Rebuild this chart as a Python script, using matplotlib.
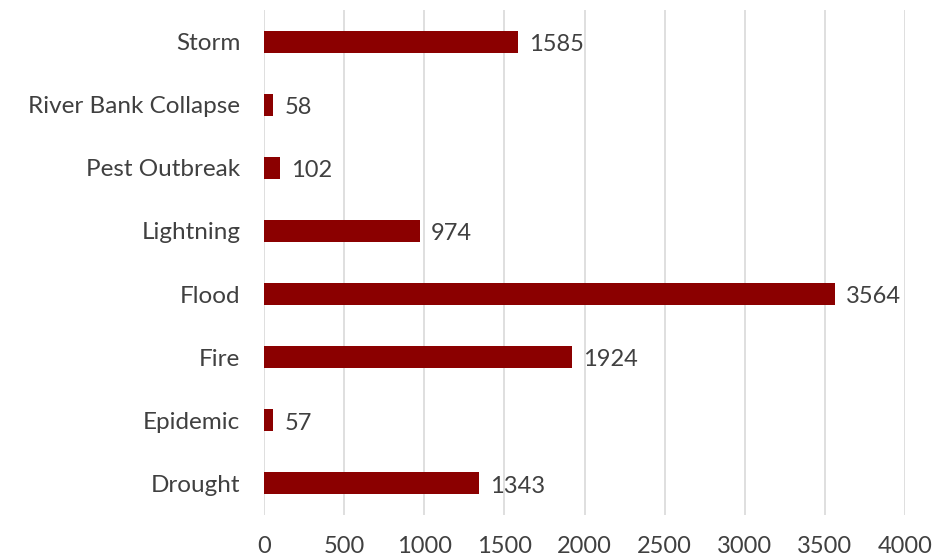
import matplotlib.pyplot as plt
import numpy as np

# categories listed top to bottom as in the chart
categories = ["Storm", "River Bank Collapse", "Pest Outbreak", "Lightning",
              "Flood", "Fire", "Epidemic", "Drought"]
counts = [1585, 58, 102, 974, 3564, 1924, 57, 1343]
x_ticks = [0, 500, 1000, 1500, 2000, 2500, 3000, 3500, 4000]

plt.rcParams['font.family'] = ['Lato', 'DejaVu Sans']
text_color = '#404040'
bar_color = '#8B0000'

fig = plt.figure(figsize=(9.33, 5.59), dpi=100)
ax = fig.add_axes([264 / 933, 1 - 515 / 559, (905 - 264) / 933, 505 / 559])

y = np.arange(len(categories))[::-1]
bars = ax.barh(y, counts, height=0.35, color=bar_color, zorder=3)

for rect, val in zip(bars, counts):
    ax.annotate(str(val), (rect.get_width(), rect.get_y() + rect.get_height() / 2),
                xytext=(8, -2), textcoords='offset points', va='center', ha='left',
                fontsize=17, color=text_color)

ax.set_xlim(0, 4000)
ax.set_ylim(-0.5, len(categories) - 0.5)
ax.set_xticks(x_ticks)
ax.set_xticklabels([str(t) for t in x_ticks], fontsize=17, color=text_color)
ax.set_yticks(y)
ax.set_yticklabels(categories, fontsize=17.5, color=text_color)
ax.tick_params(axis='both', length=0)
ax.tick_params(axis='x', pad=15)
ax.tick_params(axis='y', pad=17)
for lbl in ax.get_yticklabels():
    lbl.set_y(lbl.get_position()[1])

ax.grid(axis='x', color='#d9d9d9', linewidth=1.2, zorder=0)
for s in ax.spines.values():
    s.set_visible(False)

fig.savefig('out.png', dpi=100)
